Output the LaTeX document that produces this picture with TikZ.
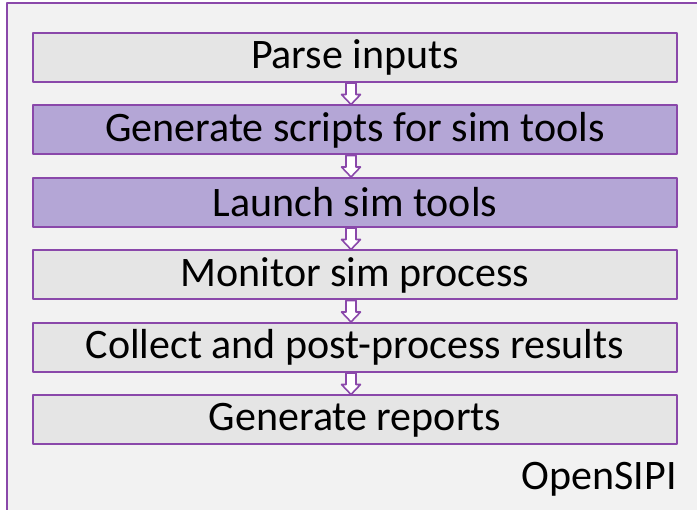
\documentclass[tikz,border=0pt]{standalone}
\usepackage{fontspec}
\setmainfont{Carlito}
\usetikzlibrary{positioning,calc}
\definecolor{framepurple}{RGB}{138,72,170}
\definecolor{steppurple}{RGB}{180,166,214}
\definecolor{stepgray}{RGB}{229,229,229}
\definecolor{panelgray}{RGB}{242,242,242}
\tikzset{
  stage/.style={draw=framepurple, line width=2pt, fill=stepgray,
    minimum width=644pt, minimum height=49pt, inner sep=0pt,
    font=\fontsize{42}{50}\selectfont},
  hot/.style={stage, fill=steppurple},
  hollowarrow/.style={draw=framepurple, fill=white, line width=1.6pt,
    to path={let \p1=(\tikztostart), \p2=(\tikztotarget) in
      (\x1-5pt,\y1) -- (\x1-5pt,\y2+10pt) -- (\x1-9.5pt,\y2+10pt) -- (\x1,\y2)
      -- (\x1+9.5pt,\y2+10pt) -- (\x1+5pt,\y2+10pt) -- (\x1+5pt,\y1) -- cycle}}
}
\begin{document}
\begin{tikzpicture}[x=1pt,y=-1pt,line join=round]
  \useasboundingbox (0,0) rectangle (697,510);
  \clip (0,0) rectangle (697,510);
  % panel
  \draw[framepurple, line width=2pt, fill=panelgray] (7,3) rectangle (710,520);
  % stages
  \node[stage] (parse) at (355,57.5) {Parse inputs};
  \node[hot, below=21.5pt of parse] (gen) {Generate scripts for sim tools};
  \node[hot, below=21.5pt of gen] (launch) {Launch sim tools};
  \node[stage, below=21.5pt of launch] (monitor) {Monitor sim process};
  \node[stage, below=21.5pt of monitor] (collect) {Collect and post-process results};
  \node[stage, below=21.5pt of collect] (report) {Generate reports};
  \node[font=\fontsize{42}{50}\selectfont, anchor=east, inner sep=0pt] (tool) at (677,479) {OpenSIPI};
  % arrows
  \foreach \a/\b in {parse/gen, gen/launch, launch/monitor, monitor/collect, collect/report}
    \draw[hollowarrow] ([xshift=-4pt]\a.south) to ([xshift=-4pt]\b.north);
\end{tikzpicture}
\end{document}
